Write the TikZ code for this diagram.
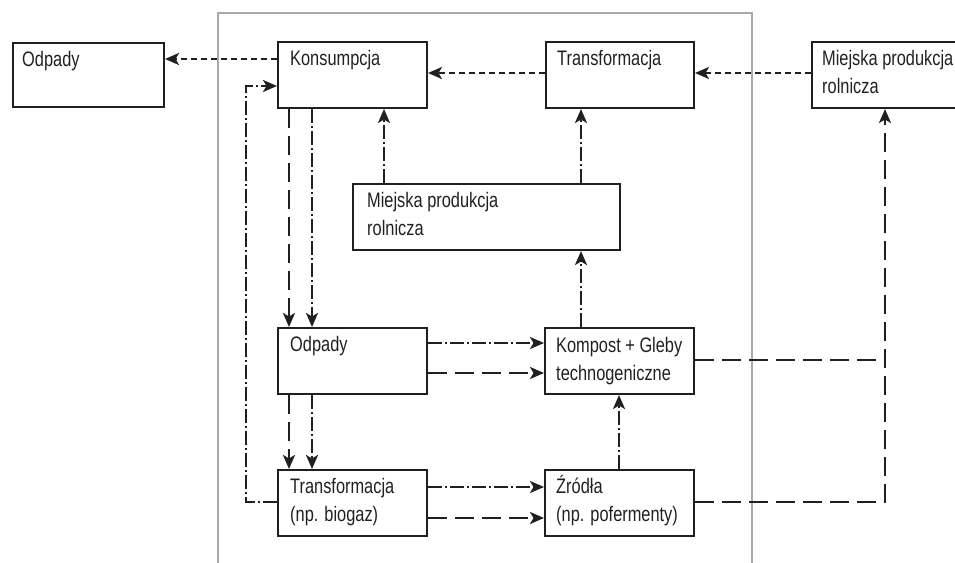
\documentclass[tikz,border=0pt]{standalone}
\usepackage{fontspec}
\setmainfont[FakeStretch=0.78]{Liberation Sans}
\usetikzlibrary{arrows.meta}
\definecolor{ink}{HTML}{231F20}
\definecolor{frame}{HTML}{A7A9AC}
\tikzset{
  box/.style={draw=ink, line width=2pt, rectangle, inner sep=0pt, anchor=north west},
  txt/.style={text=ink, font=\fontsize{21}{28}\selectfont, inner sep=0pt, anchor=base west},
  conn/.style={draw=ink, line width=2.2pt, -{Stealth[length=14pt, width=12pt, inset=3.5pt]}},
  plain/.style={draw=ink, line width=2.2pt},
  shortdash/.style={dash pattern=on 6pt off 4pt},
  longdash/.style={dash pattern=on 19pt off 8pt},
  dashdot/.style={dash pattern=on 14pt off 3pt on 2pt off 3pt},
}
\begin{document}
\begin{tikzpicture}[x=1pt, y=-1pt]
\useasboundingbox (0,0) rectangle (955,562);
% frame
\draw[frame, line width=2pt] (218,575) -- (218,12.5) -- (751.5,12.5) -- (751.5,575);
% boxes
\node[box, minimum width=151pt, minimum height=64pt] (odl) at (12,42) {};
\node[box, minimum width=149pt, minimum height=66pt] (kons) at (277,41) {};
\node[box, minimum width=148pt, minimum height=66pt] (trt) at (545,41) {};
\node[box, minimum width=160pt, minimum height=66pt] (mpr) at (811,41) {};
\node[box, minimum width=267pt, minimum height=66pt] (mpm) at (352,183) {};
\node[box, minimum width=149pt, minimum height=66pt] (odm) at (277,327) {};
\node[box, minimum width=149pt, minimum height=66pt] (kom) at (544,327) {};
\node[box, minimum width=149pt, minimum height=66pt] (trb) at (277,469) {};
\node[box, minimum width=149pt, minimum height=66pt] (zro) at (544,469) {};
% texts
\node[txt, xshift=10pt, yshift=-24pt] (t-odl) at (odl.north west) {Odpady};
\node[txt, xshift=13pt, yshift=-24pt] (t-kons) at (kons.north west) {Konsumpcja};
\node[txt, xshift=12pt, yshift=-24pt] (t-trt) at (trt.north west) {Transformacja};
\node[txt, xshift=11pt, yshift=-24pt] (t-mpr1) at (mpr.north west) {Miejska produkcja};
\node[txt, xshift=11pt, yshift=-52.5pt] (t-mpr2) at (mpr.north west) {rolnicza};
\node[txt, xshift=15pt, yshift=-24pt] (t-mpm1) at (mpm.north west) {Miejska produkcja};
\node[txt, xshift=15pt, yshift=-52.5pt] (t-mpm2) at (mpm.north west) {rolnicza};
\node[txt, xshift=13pt, yshift=-24pt] (t-odm) at (odm.north west) {Odpady};
\node[txt, xshift=12pt, yshift=-25pt] (t-kom1) at (kom.north west) {Kompost + Gleby};
\node[txt, xshift=12pt, yshift=-53pt] (t-kom2) at (kom.north west) {technogeniczne};
\node[txt, xshift=13pt, yshift=-24pt] (t-trb1) at (trb.north west) {Transformacja};
\node[txt, xshift=13pt, yshift=-52.5pt] (t-trb2) at (trb.north west) {(np. biogaz)};
\node[txt, xshift=12pt, yshift=-24pt] (t-zro1) at (zro.north west) {Źródła};
\node[txt, xshift=12pt, yshift=-52.5pt] (t-zro2) at (zro.north west) {(np. pofermenty)};
% helper coordinates
\coordinate (k59) at ([yshift=-18pt]kons.north west);
\coordinate (t73) at ([yshift=-32pt]trt.north west);
\coordinate (m73) at ([yshift=-32pt]mpr.north west);
\coordinate (kin) at ([yshift=-45pt]kons.north west);
\coordinate (tout) at ([yshift=-33pt]trb.north west);
\coordinate (loopx) at (246,0);
\coordinate (xa) at (289,0);
\coordinate (xb) at (312,0);
\coordinate (o343) at ([yshift=-16pt]odm.north east);
\coordinate (o373) at ([yshift=-46pt]odm.north east);
\coordinate (t487) at ([yshift=-18pt]trb.north east);
\coordinate (t518) at ([yshift=-49pt]trb.north east);
\coordinate (x619) at (619,0);
\coordinate (x581) at (581,0);
\coordinate (x384) at (384,0);
\coordinate (k360) at ([yshift=-33pt]kom.north east);
\coordinate (z502) at ([yshift=-33pt]zro.north east);
\coordinate (x885) at (885,0);
% top row short dashed
\draw[conn, shortdash] (k59) -- (k59 -| odl.east);
\draw[conn, shortdash] (t73) -- (t73 -| kons.east);
\draw[conn, shortdash] (m73) -- (m73 -| trt.east);
% loop back
\draw[conn, dashdot] (tout) -- (tout -| loopx) -- (kin -| loopx) -- (kin);
% verticals between left column
\draw[conn, longdash] (xa |- kons.south) -- (xa |- odm.north);
\draw[conn, dashdot] (xb |- kons.south) -- (xb |- odm.north);
\draw[conn, longdash] (xa |- odm.south) -- (xa |- trb.north);
\draw[conn, dashdot] (xb |- odm.south) -- (xb |- trb.north);
% horizontals
\draw[conn, dashdot] (o343) -- (o343 -| kom.west);
\draw[conn, longdash] (o373) -- (o373 -| kom.west);
\draw[conn, dashdot] (t487) -- (t487 -| zro.west);
\draw[conn, longdash] (t518) -- (t518 -| zro.west);
% right column verticals
\draw[conn, dashdot] (x619 |- zro.north) -- (x619 |- kom.south);
\draw[conn, dashdot] (x581 |- kom.north) -- (x581 |- mpm.south);
\draw[conn, dashdot] (x384 |- mpm.north) -- (x384 |- kons.south);
\draw[conn, dashdot] (x581 |- mpm.north) -- (x581 |- trt.south);
% outer right
\draw[plain, longdash] (k360) -- (k360 -| x885);
\draw[conn, longdash] (z502) -- (z502 -| x885) -- (x885 |- mpr.south);
\end{tikzpicture}
\end{document}
